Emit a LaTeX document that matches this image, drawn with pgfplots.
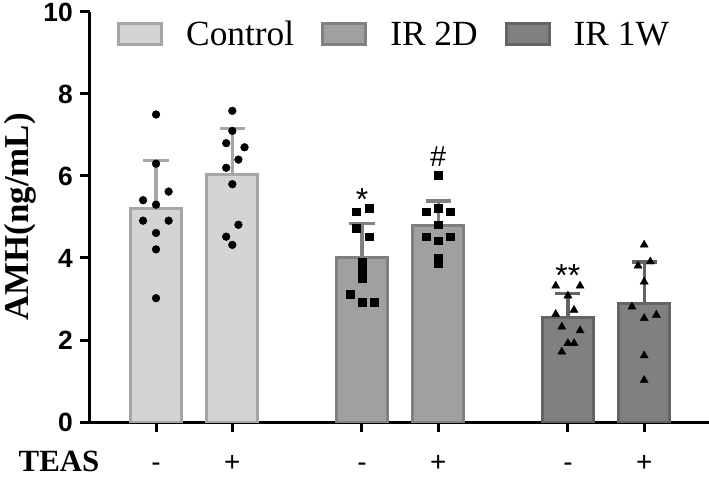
\documentclass[border=0pt]{standalone}
\usepackage{fontspec}
\setmainfont{Liberation Serif}
\setsansfont{Liberation Sans}
\usepackage{pgfplots}
\pgfplotsset{compat=1.18}
\definecolor{cA}{HTML}{D4D4D4}
\definecolor{cAd}{HTML}{A6A6A6}
\definecolor{cB}{HTML}{A0A0A0}
\definecolor{cBd}{HTML}{808080}
\definecolor{cC}{HTML}{808080}
\definecolor{cCd}{HTML}{646464}
\pgfplotsset{
  eb/.style={forget plot, line width=3.2bp, draw=#1, mark=none, line cap=butt},
}
\begin{document}
\begin{tikzpicture}
\begin{axis}[
  at={(0,0)}, anchor=south west,
  scale only axis, width=619bp, height=410bp,
  xmin=-0.866, xmax=7.25, ymin=0, ymax=10,
  axis x line=bottom, axis y line=left,
  axis line style={line width=3bp, -, black},
  every tick/.style={black, line width=3bp},
  tick align=outside, major tick length=10bp,
  xtick={0,1,2.7,3.7,5.4,6.4}, xticklabels={-,+,-,+,-,+},
  ytick={0,2,4,6,8,10},
  /pgf/number format/assume math mode=true,
  yticklabel style={font=\fontsize{26.5}{26.5}\selectfont\sffamily\bfseries, inner sep=0pt, xshift=-7bp},
  xticklabel style={font=\fontsize{28}{28}\selectfont\sffamily, anchor=base, inner sep=0pt, yshift=-39bp},
  ylabel={AMH(ng/mL)},
  ylabel style={font=\fontsize{35}{35}\selectfont\bfseries, at={(axis description cs:-0.113,0.5)}, anchor=center, inner sep=0pt},
  legend columns=3,
  legend style={draw=none, fill=none, at={(axis description cs:0.0436,0.946)}, anchor=west,
    font=\fontsize{35.5}{35.5}\selectfont, inner sep=0pt, nodes={inner sep=0pt},
    /tikz/every odd column/.append style={column sep=23bp},
    /tikz/every even column/.append style={column sep=27bp}},
]
\addlegendimage{legend image code/.code={\draw[fill=cA, draw=cAd, line width=3bp] (1.5bp,-10.5bp) rectangle (44.5bp,10.5bp);}}
\addlegendentry{Control}
\addlegendimage{legend image code/.code={\draw[fill=cB, draw=cBd, line width=3bp] (1.5bp,-10.5bp) rectangle (44.5bp,10.5bp);}}
\addlegendentry{IR 2D}
\addlegendimage{legend image code/.code={\draw[fill=cC, draw=cCd, line width=3bp] (1.5bp,-10.5bp) rectangle (44.5bp,10.5bp);}}
\addlegendentry{IR 1W}

% bars (means)
\addplot[forget plot, ybar, bar width=51bp, bar shift=0pt, fill=cA, draw=cAd, line width=3bp]
  coordinates {(0,5.20) (1,6.04)};
\addplot[forget plot, ybar, bar width=51bp, bar shift=0pt, fill=cB, draw=cBd, line width=3bp]
  coordinates {(2.7,4.00) (3.7,4.79)};
\addplot[forget plot, ybar, bar width=51bp, bar shift=0pt, fill=cC, draw=cCd, line width=3bp]
  coordinates {(5.4,2.55) (6.4,2.88)};

% error bars (mean to mean+SD, with caps)
\addplot[eb=cAd] coordinates {(0,5.20) (0,6.38)};
\addplot[eb=cAd] coordinates {(-0.165,6.38) (0.165,6.38)};
\addplot[eb=cAd] coordinates {(1,6.04) (1,7.15)};
\addplot[eb=cAd] coordinates {(0.835,7.15) (1.165,7.15)};
\addplot[eb=cBd] coordinates {(2.7,4.00) (2.7,4.84)};
\addplot[eb=cBd] coordinates {(2.535,4.84) (2.865,4.84)};
\addplot[eb=cBd] coordinates {(3.7,4.79) (3.7,5.39)};
\addplot[eb=cBd] coordinates {(3.535,5.39) (3.865,5.39)};
\addplot[eb=cCd] coordinates {(5.4,2.55) (5.4,3.14)};
\addplot[eb=cCd] coordinates {(5.235,3.14) (5.565,3.14)};
\addplot[eb=cCd] coordinates {(6.4,2.88) (6.4,3.90)};
\addplot[eb=cCd] coordinates {(6.235,3.90) (6.565,3.90)};

% individual points
\addplot[forget plot, only marks, mark=*, mark size=3.9bp, black] coordinates {
  (0,7.50) (0,6.30) (0.165,5.62) (-0.17,5.41) (0,5.30) (-0.17,4.91) (0.165,4.91) (0,4.61) (0,4.21) (0,3.02)
  (1,7.59) (1,7.10) (0.92,6.80) (1.16,6.70) (1.08,6.40) (0.92,6.20) (1,5.80) (1.08,4.81) (0.92,4.52) (1,4.32)};
\addplot[forget plot, only marks, mark=square*, mark size=3.9bp, black] coordinates {
  (2.62,5.13) (2.79,5.21) (2.62,4.72) (2.79,4.52) (2.7,3.91) (2.7,3.71) (2.7,3.50) (2.55,3.12) (2.7,2.93) (2.86,2.93)
  (3.7,6.01) (3.54,5.13) (3.7,5.21) (3.86,5.13) (3.7,4.81) (3.54,4.52) (3.7,4.42) (3.86,4.52) (3.7,3.99) (3.7,3.87)};
\addplot[forget plot, only marks, mark=triangle*, mark size=4.7bp, black] coordinates {
  (5.24,3.32) (5.56,3.32) (5.4,3.08) (5.48,2.73) (5.24,2.63) (5.32,2.32) (5.56,2.23) (5.4,1.92) (5.48,1.92) (5.32,1.71)
  (6.4,4.32) (6.32,3.81) (6.48,3.91) (6.4,3.42) (6.24,2.81) (6.4,2.53) (6.56,2.61) (6.4,1.62) (6.4,1.02)};

\node[font=\fontsize{32}{32}\selectfont\sffamily, anchor=base, inner sep=0pt] at (axis cs:2.7,5.17) {*};
\node[font=\fontsize{29}{29}\selectfont\sffamily, anchor=base, inner sep=0pt] at (axis cs:3.7,6.24) {\#};
\node[font=\fontsize{32}{32}\selectfont\sffamily, anchor=base, inner sep=0pt] at (axis cs:5.4,3.31) {**};
\end{axis}
\node[font=\fontsize{31}{31}\selectfont\bfseries, anchor=base, inner sep=0pt] at (-31bp,-49bp) {TEAS};
\pgfresetboundingbox
\path (-90bp,-56bp) rectangle (619bp,422bp);
\end{tikzpicture}
\end{document}
